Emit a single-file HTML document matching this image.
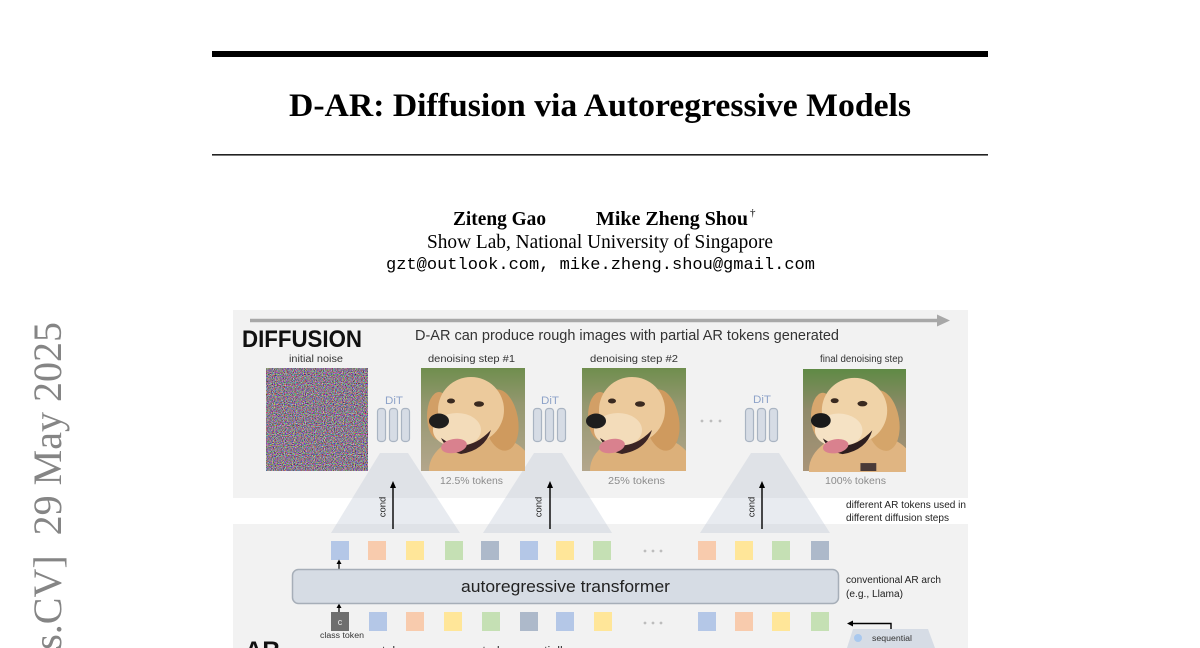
<!DOCTYPE html>
<html>
<head>
<meta charset="utf-8">
<style>
  html, body { margin: 0; padding: 0; background: #fff; }
  body { width: 1200px; height: 648px; overflow: hidden; }
  svg { display: block; }
  .sans { font-family: "Liberation Sans", "DejaVu Sans", sans-serif; }
  .serif { font-family: "Liberation Serif", "DejaVu Serif", serif; }
  .mono { font-family: "Liberation Mono", "DejaVu Sans Mono", monospace; }
</style>
</head>
<body>
<svg width="1200" height="648" viewBox="0 0 1200 648" xmlns="http://www.w3.org/2000/svg" overflow="hidden">
  <defs>
    <filter id="nz" x="0" y="0" width="100%" height="100%" color-interpolation-filters="sRGB">
      <feTurbulence type="fractalNoise" baseFrequency="0.9" numOctaves="1" seed="7"/>
      <feColorMatrix type="matrix" values="1.6 0 0 0 -0.26  0 1.6 0 0 -0.32  0 0 1.6 0 -0.25  0 0 0 0 1"/>
    </filter>
    <linearGradient id="bg1" x1="0" y1="0" x2="0" y2="1">
      <stop offset="0" stop-color="#6f8e4e"/>
      <stop offset="0.35" stop-color="#94976f"/>
      <stop offset="1" stop-color="#b3a68c"/>
    </linearGradient>
    <linearGradient id="bg3" x1="0" y1="0" x2="0" y2="1">
      <stop offset="0" stop-color="#5f8a45"/>
      <stop offset="0.4" stop-color="#8f8a6a"/>
      <stop offset="1" stop-color="#a89478"/>
    </linearGradient>
  </defs>

  <rect x="0" y="0" width="1200" height="648" fill="#ffffff"/>

  <!-- arXiv sidebar -->
  <text class="serif" transform="rotate(-90)" x="-322" y="61" text-anchor="end" font-size="40" fill="#858585">arXiv:2505.23660v2&#160;&#160;[cs.CV]&#160;&#160;29&#160;May&#160;2025</text>

  <!-- rules + title -->
  <rect x="212" y="51" width="776" height="6" fill="#000"/>
  <text class="serif" x="600" y="116" text-anchor="middle" font-weight="bold" font-size="33" textLength="622" lengthAdjust="spacingAndGlyphs" fill="#000">D-AR: Diffusion via Autoregressive Models</text>
  <rect x="212" y="154" width="776" height="1.6" fill="#222"/>

  <!-- authors -->
  <text class="serif" x="453" y="225" font-weight="bold" font-size="19.5" textLength="93" lengthAdjust="spacingAndGlyphs" fill="#000">Ziteng Gao</text>
  <text class="serif" x="596" y="225" font-weight="bold" font-size="19.5" textLength="152" lengthAdjust="spacingAndGlyphs" fill="#000">Mike Zheng Shou</text>
  <text class="serif" x="750" y="216" font-size="11" fill="#000">†</text>
  <text class="serif" x="427" y="248" font-size="19.5" textLength="346" lengthAdjust="spacingAndGlyphs" fill="#000">Show Lab, National University of Singapore</text>
  <text class="mono" x="386" y="269" font-size="17" textLength="429" lengthAdjust="spacingAndGlyphs" fill="#000">gzt@outlook.com, mike.zheng.shou@gmail.com</text>

  <!-- figure panels -->
  <rect x="233" y="310" width="735" height="188" fill="#f2f2f2"/>
  <rect x="233" y="524" width="735" height="124" fill="#f2f2f2"/>

  <!-- top arrow -->
  <line x1="250" y1="320.5" x2="940" y2="320.5" stroke="#a8a8a8" stroke-width="3.5"/>
  <polygon points="937,314.5 950,320.5 937,326.5" fill="#a8a8a8"/>

  <text class="sans" x="242" y="347" font-weight="bold" font-size="24" textLength="120" lengthAdjust="spacingAndGlyphs" fill="#111">DIFFUSION</text>
  <text class="sans" x="415" y="340" font-size="15" textLength="424" lengthAdjust="spacingAndGlyphs" fill="#333">D-AR can produce rough images with partial AR tokens generated</text>

  <!-- image labels -->
  <text class="sans" x="289" y="362" font-size="10" textLength="54" lengthAdjust="spacingAndGlyphs" fill="#333">initial noise</text>
  <text class="sans" x="428" y="362" font-size="10" textLength="87" lengthAdjust="spacingAndGlyphs" fill="#333">denoising step #1</text>
  <text class="sans" x="590" y="362" font-size="10" textLength="88" lengthAdjust="spacingAndGlyphs" fill="#333">denoising step #2</text>
  <text class="sans" x="820" y="362" font-size="10" textLength="83" lengthAdjust="spacingAndGlyphs" fill="#333">final denoising step</text>

  <!-- triangles (cond cones) -->
  <polygon points="380,453 408,453 460,533 331,533" fill="rgba(185,192,208,0.32)"/>
  <polygon points="534,453 562,453 612,533 483,533" fill="rgba(185,192,208,0.32)"/>
  <polygon points="751,453 779,453 830,533 700,533" fill="rgba(185,192,208,0.32)"/>

  <!-- noise -->
  <rect x="266" y="368" width="102" height="103" filter="url(#nz)"/>

  <!-- dog 1 -->
  <svg x="421" y="368" width="104" height="103" viewBox="0 0 104 103">
    <rect width="104" height="103" fill="url(#bg1)"/>
    <ellipse cx="60" cy="102" rx="52" ry="36" fill="#dcb07a"/>
    <ellipse cx="80" cy="52" rx="17" ry="31" fill="#cf9a5e" transform="rotate(-10 80 52)"/>
    <ellipse cx="18" cy="48" rx="12" ry="24" fill="#d29f66"/>
    <ellipse cx="50" cy="42" rx="33" ry="33" fill="#ecca9c"/>
    <ellipse cx="36" cy="62" rx="24" ry="17" fill="#f3dcba"/>
    <path d="M20 70 Q45 88 70 62 Q64 82 40 86 Q26 83 20 70Z" fill="#3b2424"/>
    <ellipse cx="33" cy="78" rx="13" ry="7" fill="#d9818e" transform="rotate(-10 33 78)"/>
    <ellipse cx="18" cy="53" rx="10" ry="7.5" fill="#1e1e1e"/>
    <ellipse cx="30" cy="33" rx="4" ry="2.5" fill="#3a2a20"/>
    <ellipse cx="58" cy="36" rx="5" ry="2.8" fill="#3a2a20"/>
  </svg>

  <!-- dog 2 -->
  <svg x="582" y="368" width="104" height="103" viewBox="0 0 104 103">
    <rect width="104" height="103" fill="url(#bg1)"/>
    <ellipse cx="60" cy="102" rx="52" ry="36" fill="#dcb07a"/>
    <ellipse cx="80" cy="52" rx="17" ry="31" fill="#cf9a5e" transform="rotate(-10 80 52)"/>
    <ellipse cx="18" cy="48" rx="12" ry="24" fill="#d29f66"/>
    <ellipse cx="50" cy="42" rx="33" ry="33" fill="#ecca9c"/>
    <ellipse cx="36" cy="62" rx="24" ry="17" fill="#f3dcba"/>
    <path d="M18 70 Q45 88 70 62 Q64 82 40 86 Q24 83 18 70Z" fill="#3b2424"/>
    <ellipse cx="30" cy="78" rx="13" ry="7" fill="#d9818e" transform="rotate(-10 30 78)"/>
    <ellipse cx="14" cy="53" rx="10" ry="7.5" fill="#1e1e1e"/>
    <ellipse cx="30" cy="33" rx="4" ry="2.5" fill="#3a2a20"/>
    <ellipse cx="58" cy="36" rx="5" ry="2.8" fill="#3a2a20"/>
  </svg>

  <!-- dog 3 -->
  <svg x="803" y="368" width="103" height="104" viewBox="0 0 104 103">
    <rect width="104" height="103" fill="url(#bg3)"/>
    <ellipse cx="60" cy="102" rx="54" ry="38" fill="#e0b582"/>
    <ellipse cx="80" cy="52" rx="17" ry="31" fill="#d5a56a" transform="rotate(-10 80 52)"/>
    <ellipse cx="20" cy="48" rx="12" ry="24" fill="#d8a76e"/>
    <ellipse cx="52" cy="42" rx="33" ry="33" fill="#f0d3a8"/>
    <ellipse cx="36" cy="62" rx="24" ry="17" fill="#f5e2c4"/>
    <path d="M20 70 Q45 88 70 62 Q64 82 40 86 Q26 83 20 70Z" fill="#2e1e1e"/>
    <ellipse cx="33" cy="78" rx="13" ry="7" fill="#d9818e" transform="rotate(-10 33 78)"/>
    <ellipse cx="18" cy="52" rx="10" ry="7.5" fill="#1a1a1a"/>
    <ellipse cx="32" cy="32" rx="4" ry="2.5" fill="#3a2a20"/>
    <ellipse cx="60" cy="35" rx="5" ry="2.8" fill="#3a2a20"/>
    <rect x="58" y="95" width="16" height="8" fill="#4a3a38"/>
  </svg>

  <!-- DiT blocks -->
  <g fill="#d6dce5" stroke="#a9b4c2" stroke-width="1.2">
    <rect x="377.5" y="408.5" width="8" height="33" rx="3"/>
    <rect x="389.5" y="408.5" width="8" height="33" rx="3"/>
    <rect x="401.5" y="408.5" width="8" height="33" rx="3"/>
    <rect x="533.5" y="408.5" width="8" height="33" rx="3"/>
    <rect x="545.5" y="408.5" width="8" height="33" rx="3"/>
    <rect x="557.5" y="408.5" width="8" height="33" rx="3"/>
    <rect x="745.5" y="408.5" width="8" height="33" rx="3"/>
    <rect x="757.5" y="408.5" width="8" height="33" rx="3"/>
    <rect x="769.5" y="408.5" width="8" height="33" rx="3"/>
  </g>
  <g class="sans" font-size="11" fill="#8ea3c9">
    <text x="385" y="404" textLength="18" lengthAdjust="spacingAndGlyphs">DiT</text>
    <text x="541" y="404" textLength="18" lengthAdjust="spacingAndGlyphs">DiT</text>
    <text x="753" y="403" textLength="18" lengthAdjust="spacingAndGlyphs">DiT</text>
  </g>
  <g fill="#bdbdbd">
    <circle cx="702" cy="421" r="1.4"/><circle cx="711" cy="421" r="1.4"/><circle cx="720" cy="421" r="1.4"/>
  </g>

  <!-- token % labels -->
  <g class="sans" font-size="10.5" fill="#8c8c8c">
    <text x="440" y="484" textLength="63" lengthAdjust="spacingAndGlyphs">12.5% tokens</text>
    <text x="608" y="484" textLength="57" lengthAdjust="spacingAndGlyphs">25% tokens</text>
    <text x="825" y="484" textLength="61" lengthAdjust="spacingAndGlyphs">100% tokens</text>
  </g>

  <!-- cond arrows -->
  <g stroke="#000" stroke-width="1.4">
    <line x1="393" y1="529" x2="393" y2="486"/>
    <line x1="550" y1="529" x2="550" y2="486"/>
    <line x1="762" y1="529" x2="762" y2="486"/>
  </g>
  <g fill="#000">
    <polygon points="390,488 393,481 396,488"/>
    <polygon points="547,488 550,481 553,488"/>
    <polygon points="759,488 762,481 765,488"/>
  </g>
  <g class="sans" font-size="9.5" fill="#222" text-anchor="middle">
    <text transform="translate(385.5,507) rotate(-90)">cond</text>
    <text transform="translate(541.5,507) rotate(-90)">cond</text>
    <text transform="translate(754.5,507) rotate(-90)">cond</text>
  </g>

  <!-- right annotations -->
  <g class="sans" font-size="10" fill="#222">
    <text x="846" y="508" textLength="120" lengthAdjust="spacingAndGlyphs">different AR tokens used in</text>
    <text x="846" y="521" textLength="103" lengthAdjust="spacingAndGlyphs">different diffusion steps</text>
    <text x="846" y="583" textLength="95" lengthAdjust="spacingAndGlyphs">conventional AR arch</text>
    <text x="846" y="597" textLength="57" lengthAdjust="spacingAndGlyphs">(e.g., Llama)</text>
  </g>

  <!-- token row 1 -->
  <g>
    <rect x="331" y="541" width="18" height="19" fill="#b4c7e7"/>
    <rect x="368" y="541" width="18" height="19" fill="#f8cbad"/>
    <rect x="406" y="541" width="18" height="19" fill="#ffe699"/>
    <rect x="445" y="541" width="18" height="19" fill="#c5e0b4"/>
    <rect x="481" y="541" width="18" height="19" fill="#adb9ca"/>
    <rect x="520" y="541" width="18" height="19" fill="#b4c7e7"/>
    <rect x="556" y="541" width="18" height="19" fill="#ffe699"/>
    <rect x="593" y="541" width="18" height="19" fill="#c5e0b4"/>
    <rect x="698" y="541" width="18" height="19" fill="#f8cbad"/>
    <rect x="735" y="541" width="18" height="19" fill="#ffe699"/>
    <rect x="772" y="541" width="18" height="19" fill="#c5e0b4"/>
    <rect x="811" y="541" width="18" height="19" fill="#adb9ca"/>
  </g>
  <g fill="#bdbdbd">
    <circle cx="645" cy="551" r="1.4"/><circle cx="653" cy="551" r="1.4"/><circle cx="661" cy="551" r="1.4"/>
    <circle cx="645" cy="623" r="1.4"/><circle cx="653" cy="623" r="1.4"/><circle cx="661" cy="623" r="1.4"/>
  </g>

  <!-- small arrows -->
  <line x1="339" y1="569" x2="339" y2="563" stroke="#000" stroke-width="1.2"/>
  <polygon points="336.5,564 339,559.5 341.5,564" fill="#000"/>
  <line x1="339" y1="612" x2="339" y2="607" stroke="#000" stroke-width="1.2"/>
  <polygon points="336.5,608 339,603.5 341.5,608" fill="#000"/>

  <!-- transformer box -->
  <rect x="292.5" y="569.5" width="546" height="34" rx="6" fill="#d6dce4" stroke="#a6aeb8" stroke-width="1.5"/>
  <text class="sans" x="461" y="592" font-size="17" textLength="209" lengthAdjust="spacingAndGlyphs" fill="#222">autoregressive transformer</text>

  <!-- token row 2 -->
  <g>
    <rect x="331" y="612" width="18" height="19" fill="#6e6e6e"/>
    <rect x="369" y="612" width="18" height="19" fill="#b4c7e7"/>
    <rect x="406" y="612" width="18" height="19" fill="#f8cbad"/>
    <rect x="444" y="612" width="18" height="19" fill="#ffe699"/>
    <rect x="482" y="612" width="18" height="19" fill="#c5e0b4"/>
    <rect x="520" y="612" width="18" height="19" fill="#adb9ca"/>
    <rect x="556" y="612" width="18" height="19" fill="#b4c7e7"/>
    <rect x="594" y="612" width="18" height="19" fill="#ffe699"/>
    <rect x="698" y="612" width="18" height="19" fill="#b4c7e7"/>
    <rect x="735" y="612" width="18" height="19" fill="#f8cbad"/>
    <rect x="772" y="612" width="18" height="19" fill="#ffe699"/>
    <rect x="811" y="612" width="18" height="19" fill="#c5e0b4"/>
  </g>
  <text class="sans" x="340" y="625" font-size="9" text-anchor="middle" fill="#e8e8e8">c</text>
  <text class="sans" x="320" y="638" font-size="8" textLength="44" lengthAdjust="spacingAndGlyphs" fill="#333">class token</text>

  <!-- sequential arrow + trapezoid -->
  <polyline points="891,629 891,623.5 852,623.5" fill="none" stroke="#000" stroke-width="1.4"/>
  <polygon points="853,620.5 847,623.5 853,626.5" fill="#000"/>
  <polygon points="853,629 928,629 935,648 847,648" fill="#d6dce5"/>
  <circle cx="858" cy="638" r="4" fill="#a9c8ee"/>
  <text class="sans" x="872" y="641" font-size="8" textLength="40" lengthAdjust="spacingAndGlyphs" fill="#333">sequential</text>

  <!-- AR label and cut-off caption -->
  <text class="sans" x="245" y="658" font-weight="bold" font-size="24" fill="#111">AR</text>
  <text class="sans" x="382" y="656" font-size="14" textLength="187" lengthAdjust="spacingAndGlyphs" fill="#333">tokens are generated sequentially</text>
</svg>
</body>
</html>
